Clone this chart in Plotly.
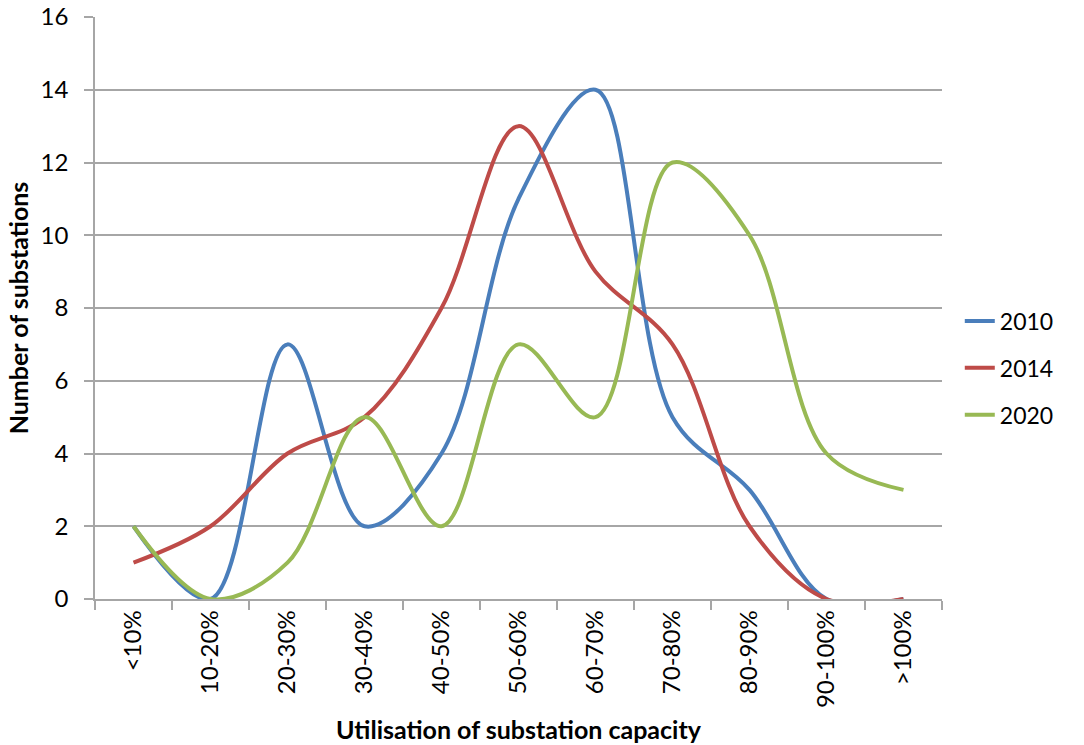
import plotly.graph_objects as go

categories = ["<10%", "10-20%", "20-30%", "30-40%", "40-50%", "50-60%",
              "60-70%", "70-80%", "80-90%", "90-100%", ">100%"]
s2010 = [2, 0, 7, 2, 4, 11, 14, 5, 3, 0, 0]
s2014 = [1, 2, 4, 5, 8, 13, 9, 7, 2, 0, 0]
s2020 = [2, 0, 1, 5, 2, 7, 5, 12, 10, 4, 3]
y_ticks = [0, 2, 4, 6, 8, 10, 12, 14, 16]

series = [("2010", s2010, "#4A7EBB"), ("2014", s2014, "#BE4B48"), ("2020", s2020, "#98B954")]

fig = go.Figure()
for i, (name, vals, color) in enumerate(series):
    fig.add_trace(go.Scatter(
        x=categories, y=vals, name=name, mode="lines",
        line=dict(color=color, width=4, shape="spline", smoothing=1.0),
        legendgroup=name,
    ))

font_family = "Lato, Carlito, 'Open Sans', sans-serif"
fig.update_layout(
    width=1084, height=745,
    margin=dict(l=95, r=142, t=17, b=146),
    plot_bgcolor="white", paper_bgcolor="white",
    font=dict(family=font_family, size=22, color="#000000"),
    showlegend=True,
    legend=dict(x=1.021, y=0.397, xanchor="left", yanchor="middle",
                font=dict(size=23, color="#000000"), tracegroupgap=14,
                bgcolor="rgba(0,0,0,0)"),
    xaxis=dict(
        type="category", range=[-0.5, 10.5], automargin=False,
        tickangle=-90, tickson="boundaries", ticks="outside", ticklen=9,
        tickcolor="#A6A6A6", tickwidth=1.5,
        showline=True, linecolor="#A6A6A6", linewidth=1.5,
        showgrid=False, zeroline=False,
        tickfont=dict(size=24),
        title=dict(text="<b>Utilisation of substation capacity</b>", font=dict(size=25), standoff=14),
    ),
    yaxis=dict(
        range=[0, 16], tickvals=y_ticks, ticks="outside", ticklen=9, automargin=False,
        tickcolor="#A6A6A6", tickwidth=1.5,
        showline=True, linecolor="#A6A6A6", linewidth=1.5,
        showgrid=True, gridcolor="#A6A6A6", gridwidth=1.5, zeroline=False,
        tickfont=dict(size=24), ticklabelstandoff=11,
        title=dict(text="<b>Number of substations</b>", font=dict(size=25), standoff=5),
    ),
)

fig.write_html("out.html")
